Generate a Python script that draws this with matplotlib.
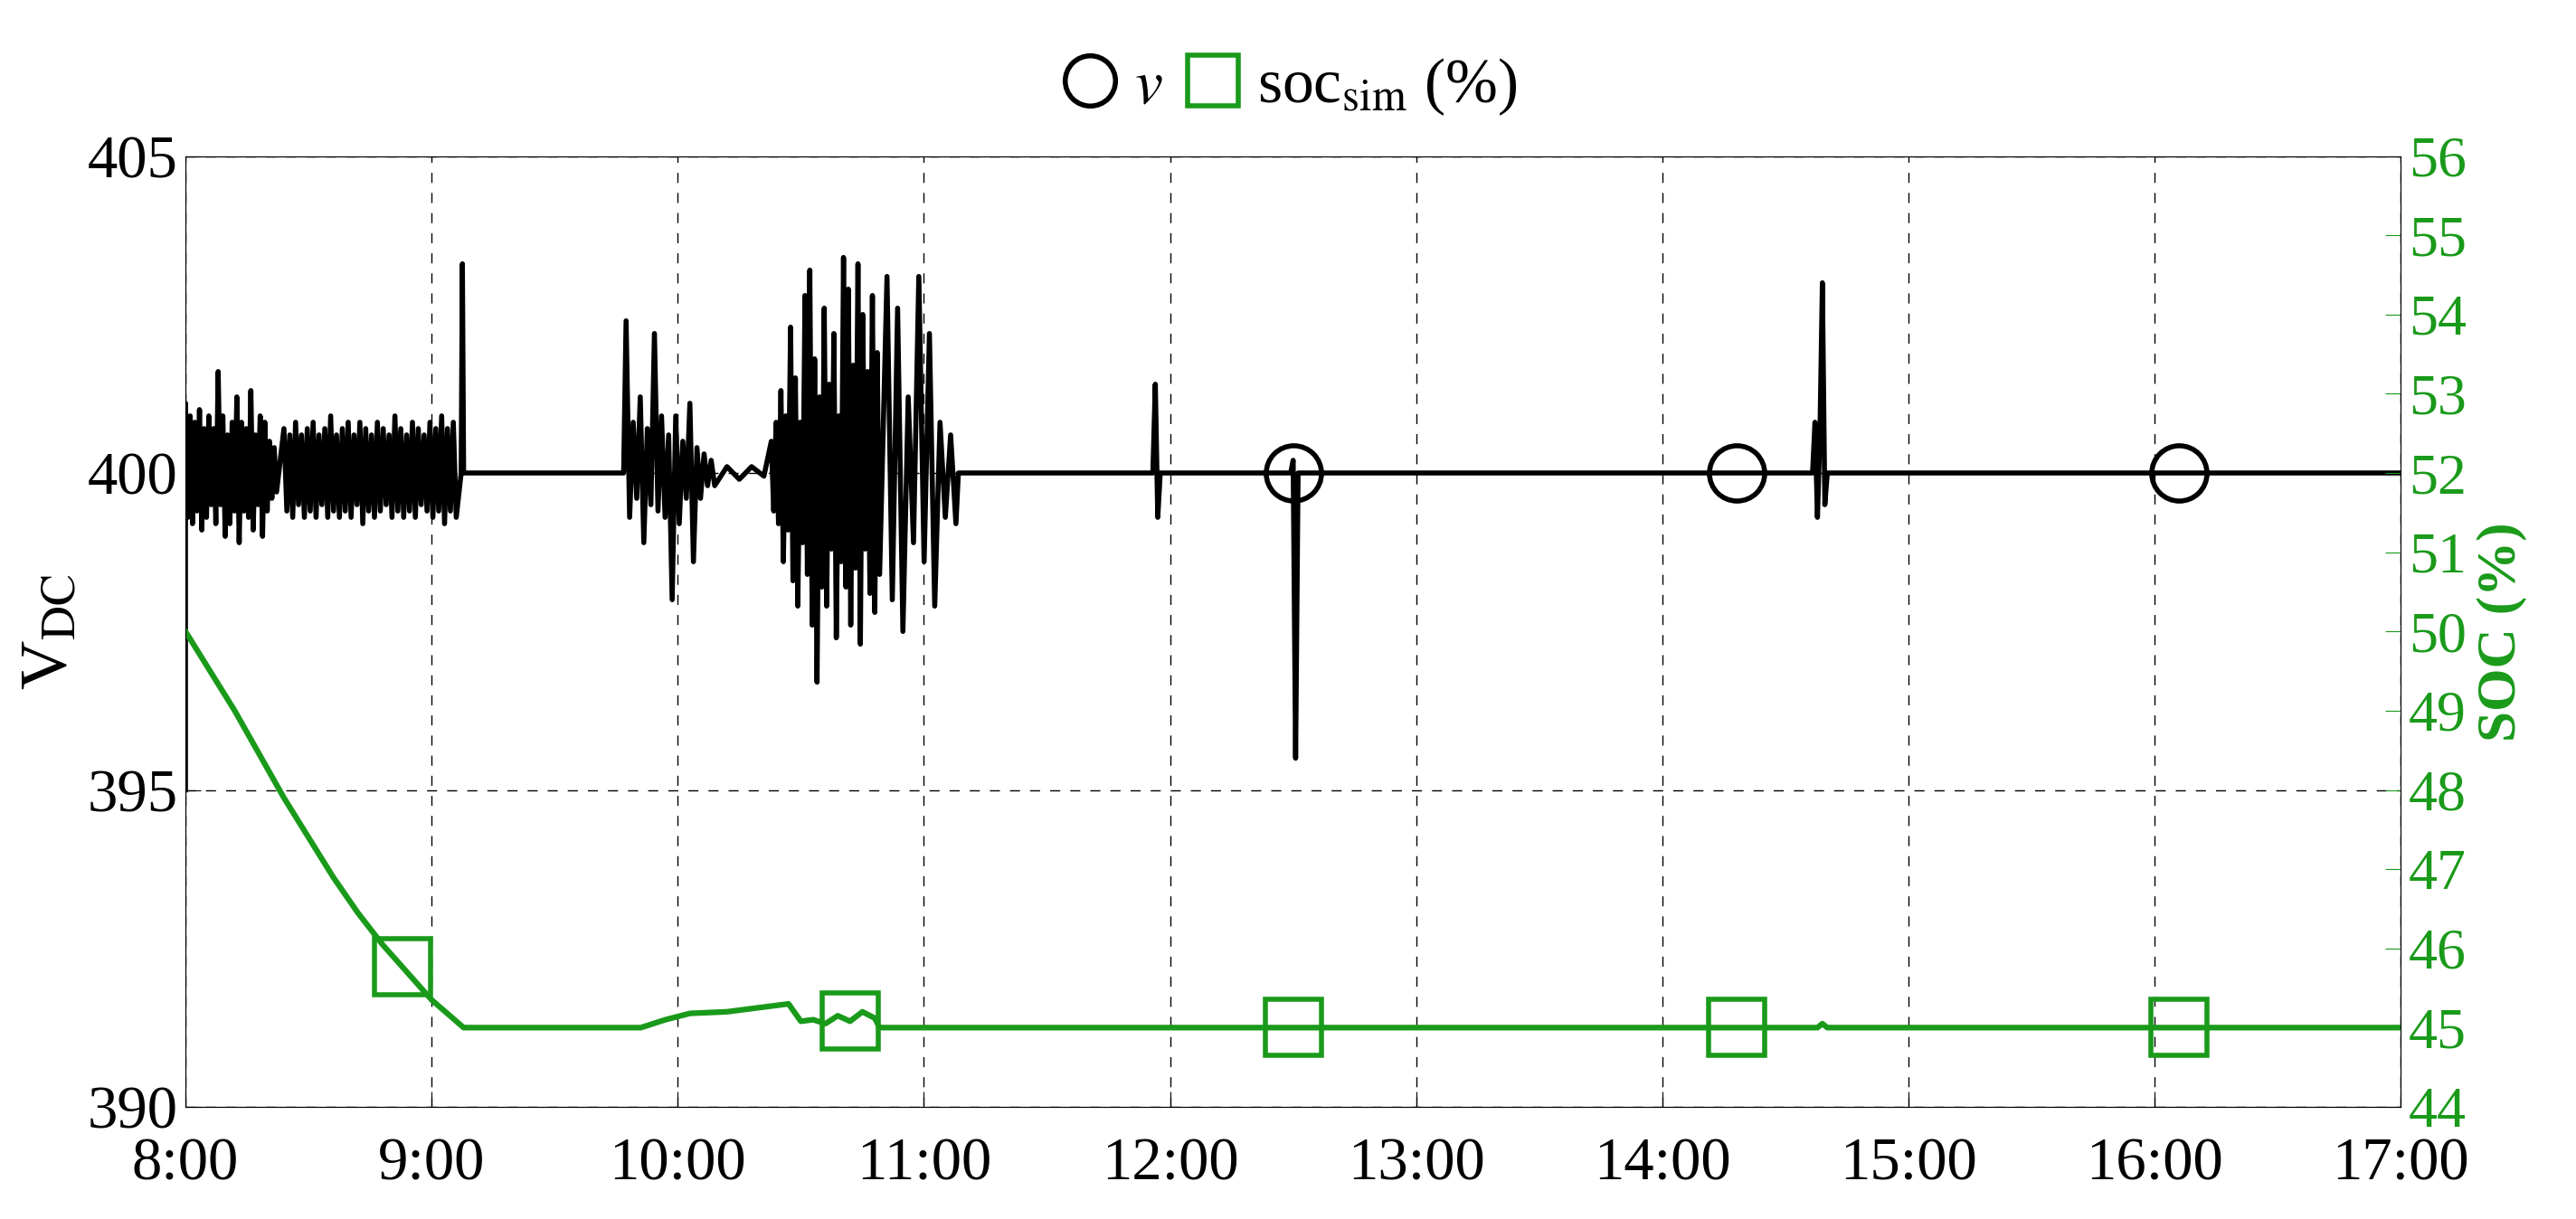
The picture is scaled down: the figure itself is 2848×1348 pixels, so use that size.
import matplotlib.pyplot as plt
import numpy as np

plt.rcParams['font.family'] = ['Liberation Serif', 'DejaVu Serif']
plt.rcParams['mathtext.fontset'] = 'stix'

# voltage: flat 400 V baseline with bursts (time in hours)
burst_a = [401.1, 399.3, 400.9, 399.2, 400.8, 399.4, 401.0, 399.1, 400.7, 399.3,
           400.9, 399.5, 400.7, 399.2, 401.6, 399.5, 400.9, 399.0, 400.6, 399.2,
           400.8, 399.4, 401.2, 398.9, 400.8, 399.4, 400.7, 399.3, 401.3, 399.1,
           400.6, 399.5, 400.9, 399.0, 400.8, 399.4, 400.5, 399.6, 400.4, 399.7]
burst_b = [400.7, 399.4, 400.6, 399.3, 400.8, 399.5, 400.6, 399.3, 400.7, 399.4,
           400.8, 399.3, 400.6, 399.5, 400.7, 399.3, 400.9, 399.4, 400.6, 399.3,
           400.7, 399.4, 400.8, 399.3, 400.6, 399.5, 400.8, 399.2, 400.7, 399.4,
           400.6, 399.3, 400.8, 399.4, 400.7, 399.5, 400.6, 399.3, 400.9, 399.4,
           400.7, 399.3, 400.6, 399.4, 400.8, 399.3, 400.7, 399.5, 400.6, 399.4,
           400.8, 399.3, 400.7, 399.4, 400.9, 399.2, 400.7, 399.4, 400.8, 399.3]
burst_c = [402.4, 399.3, 400.8, 399.6, 401.2, 398.9, 400.7, 399.5, 402.2, 399.4,
           400.9, 399.3, 400.6, 398.0, 400.9, 399.2, 400.5, 399.6, 401.1, 398.6,
           400.4, 399.6, 400.3, 399.8, 400.2, 399.8]
burst_d = [400.5, 399.4, 400.8, 399.2, 401.3, 398.6, 400.9, 399.1, 402.3, 398.3,
           401.5, 397.9, 400.8, 398.9, 402.8, 398.4, 403.2, 397.6, 401.8, 396.7,
           401.2, 398.2, 402.6, 397.9, 401.4, 398.8, 402.2, 397.4, 400.9, 398.6,
           403.4, 398.2, 402.9, 397.6, 401.7, 398.5, 403.3, 397.3, 402.5, 398.8,
           401.6, 398.1, 402.8, 397.8, 401.9, 398.4]
burst_e = [403.1, 398.0, 402.6, 397.5, 401.2, 398.9, 403.1, 398.6, 402.2, 397.9,
           400.8, 399.3, 400.6, 399.2]

v_time = np.concatenate([
    [8.0], np.linspace(8.0, 8.37, len(burst_a)), np.linspace(8.4, 9.1, len(burst_b)),
    [9.12, 9.125, 9.13, 9.14, 9.78], np.linspace(9.79, 10.15, len(burst_c)),
    [10.2, 10.25, 10.3, 10.35], np.linspace(10.38, 10.82, len(burst_d)),
    np.linspace(10.85, 11.13, len(burst_e)),
    [11.14, 11.93, 11.94, 11.95, 11.96, 12.49, 12.5, 12.51, 12.52, 14.61, 14.62,
     14.63, 14.64, 14.65, 14.66, 14.67, 17.0]])
v_dc = np.concatenate([
    [395.0], burst_a, burst_b,
    [400.0, 403.3, 400.0, 400.0, 400.0], burst_c,
    [400.1, 399.9, 400.1, 399.95], burst_d, burst_e,
    [400.0, 400.0, 401.4, 399.3, 400.0, 400.0, 400.2, 395.5, 400.0, 400.0, 400.8,
     399.3, 400.6, 403.0, 399.5, 400.0, 400.0]])

soc_time = [8.0, 8.1, 8.2, 8.3, 8.4, 8.5, 8.6, 8.7, 8.8, 8.9, 9.0, 9.13, 9.85, 9.95,
            10.05, 10.2, 10.35, 10.45, 10.5, 10.55, 10.6, 10.65, 10.7, 10.75, 10.8,
            10.82, 14.63, 14.65, 14.67, 17.0]
soc_sim = [50.0, 49.5, 49.0, 48.45, 47.9, 47.4, 46.9, 46.45, 46.05, 45.7, 45.35,
           45.0, 45.0, 45.1, 45.18, 45.2, 45.26, 45.3, 45.08, 45.1, 45.05, 45.15,
           45.08, 45.2, 45.12, 45.0, 45.0, 45.05, 45.0, 45.0]

v_marks = [12.5, 14.3, 16.1]
soc_marks = [8.88, 10.7, 12.5, 14.3, 16.1]

hours = list(range(8, 18))
hour_labels = ['%d:00' % h for h in hours]

fig = plt.figure(figsize=(28.48, 13.48), dpi=100)
ax = fig.add_axes([0.072, 0.092, 0.86, 0.78])
ax2 = ax.twinx()

green = '#1a9a1a'
ax.plot(v_time, v_dc, color='black', lw=4.0, zorder=3)
ax.plot(v_marks, [400.0] * 3, 'o', ms=44, mfc='none', mec='black', mew=4, zorder=4)
ax.plot([], [], 'o', ms=40, mfc='none', mec='black', mew=4, label='$v$')

ax2.plot(soc_time, soc_sim, color=green, lw=4.5)
ax2.plot(soc_marks, np.interp(soc_marks, soc_time, soc_sim), 's', ms=44,
         mfc='none', mec=green, mew=4)
ax.plot([], [], 's', ms=40, mfc='none', mec=green, mew=4,
        label=r'soc$_{\mathrm{sim}}$ (%)')

ax.set_xlim(8, 17)
ax.set_ylim(390, 405)
ax.set_yticks([390, 395, 400, 405])
ax.set_xticks(hours)
ax.set_xticklabels(hour_labels)
ax.grid(True, color='black', ls=(0, (8, 8)), lw=1.0)
ax.tick_params(direction='in', labelsize=48, length=12)
ax.tick_params(axis='x', pad=24)
ax.tick_params(axis='y', pad=6)
ax.set_ylabel(r'V$_{\mathrm{DC}}$', fontsize=54, labelpad=4)

ax2.set_ylim(44, 56)
ax2.set_yticks(range(44, 57))
ax2.tick_params(direction='in', labelsize=46, colors=green, length=12, pad=6)
ax2.set_ylabel('SOC (%)', fontsize=44, color=green, fontweight='bold', labelpad=8)
for sp in ax2.spines.values():
    sp.set_color('black')

fig.legend(loc='upper center', bbox_to_anchor=(0.5, 1.0), ncol=2, frameon=False,
           fontsize=50, handlelength=1.0, handletextpad=0.2, columnspacing=0.3)

fig.savefig('out.png', dpi=100)
